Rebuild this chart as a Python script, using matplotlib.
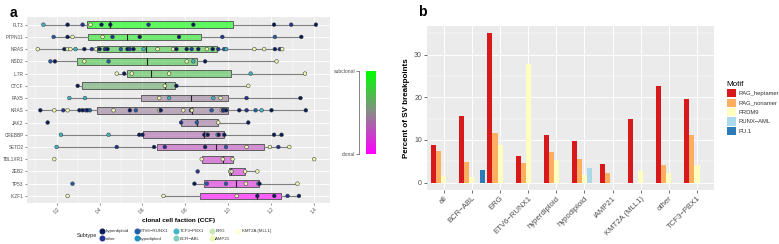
import numpy as np
import matplotlib
matplotlib.use("Agg")
import matplotlib.pyplot as plt
from matplotlib.colors import LinearSegmentedColormap, Normalize
from matplotlib.lines import Line2D
from matplotlib.patches import Patch

plt.rcParams['font.family'] = ['Liberation Sans', 'DejaVu Sans']

# ---- panel a data -------------------------------------------------------
genes = ['FLT3', 'PTPN11', 'NRAS', 'NSD2', 'IL7R', 'CTCF', 'PAX5', 'KRAS',
         'JAK2', 'CREBBP', 'SETD2', 'TBL1XR1', 'ZEB2', 'TP53', 'IKZF1']
box_q1 = [0.341, 0.346, 0.386, 0.294, 0.526, 0.318, 0.592, 0.387, 0.78,
          0.603, 0.666, 0.876, 1.003, 0.888, 0.868]
box_med = [0.45, 0.526, 0.615, 0.623, 0.639, 0.704, 0.826, 0.83, 0.853,
           0.888, 0.941, 0.974, 1.012, 1.034, 1.135]
box_q3 = [1.023, 0.873, 0.949, 0.853, 1.011, 0.752, 0.997, 0.997, 0.953,
          0.981, 1.167, 1.02, 1.078, 1.143, 1.245]
whisk_lo = [0.138, 0.186, 0.112, 0.171, 0.48, 0.298, 0.259, 0.124, 0.78,
            0.22, 0.2, 0.876, 1.003, 0.842, 0.698]
whisk_hi = [1.408, 1.34, 1.251, 1.225, 1.357, 1.093, 1.336, 1.361, 1.093,
            1.248, 1.284, 1.02, 1.135, 1.322, 1.329]

# CCF of each sample per gene and its subtype index
ccf_values = [
    [0.138, 0.251, 0.321, 0.358, 0.409, 0.45, 0.628, 0.837, 1.213, 1.293, 1.408],
    [0.186, 0.251, 0.274, 0.414, 0.46, 0.587, 0.77, 0.972, 1.217, 1.34],
    [0.112, 0.236, 0.251, 0.264, 0.288, 0.329, 0.364, 0.383, 0.40, 0.425, 0.437,
     0.499, 0.53, 0.541, 0.558, 0.605, 0.67, 0.743, 0.758, 0.806, 0.829, 0.86,
     0.90, 0.927, 0.953, 0.98, 0.99, 1.121, 1.167, 1.217, 1.24, 1.251],
    [0.171, 0.192, 0.329, 0.442, 0.806, 0.837, 0.892, 1.225],
    [0.48, 0.515, 0.55, 0.724, 1.104, 1.357],
    [0.298, 0.704, 0.758, 1.093],
    [0.259, 0.332, 0.678, 0.724, 0.93, 0.964, 1.085, 1.336],
    [0.124, 0.189, 0.231, 0.251, 0.306, 0.321, 0.336, 0.344, 0.355, 0.465,
     0.541, 0.569, 0.678, 0.685, 0.79, 0.826, 0.83, 0.922, 0.969, 0.975, 0.98,
     0.99, 1.051, 1.085, 1.127, 1.155, 1.201, 1.361],
    [0.158, 0.78, 0.853, 0.953, 1.093],
    [0.22, 0.442, 0.585, 0.60, 0.888, 0.90, 0.904, 0.95, 0.955, 0.981, 1.213, 1.248],
    [0.2, 0.48, 0.654, 0.704, 0.892, 0.989, 1.085, 1.194, 1.233, 1.284],
    [0.189, 0.876, 0.974, 1.02, 1.4],
    [0.857, 1.008, 1.015, 1.078, 1.135],
    [0.274, 0.842, 0.9, 0.989, 1.082, 1.14, 1.145, 1.322],
    [0.251, 0.698, 1.039, 1.135, 1.214, 1.276, 1.329],
]
ccf_subtype = [
    [4, 0, 1, 7, 0, 0, 1, 0, 0, 1, 0],
    [2, 0, 7, 7, 1, 0, 0, 1, 2, 0],
    [7, 0, 7, 7, 4, 0, 1, 7, 0, 1, 0, 2, 0, 1, 0, 4, 7, 7, 0, 0, 1, 0, 7, 0,
     1, 2, 4, 7, 7, 0, 1, 7],
    [2, 0, 7, 2, 7, 4, 0, 7],
    [7, 0, 7, 7, 4, 7],
    [0, 7, 0, 7],
    [4, 4, 7, 4, 4, 7, 1, 0],
    [0, 7, 1, 7, 0, 0, 1, 0, 2, 7, 0, 2, 7, 0, 7, 0, 7, 2, 7, 0, 1, 0, 0, 1,
     2, 4, 0, 0],
    [0, 1, 2, 7, 0],
    [4, 4, 0, 0, 0, 7, 0, 4, 0, 0, 0, 0],
    [4, 1, 0, 1, 0, 2, 7, 7, 1, 7],
    [7, 7, 7, 7, 7],
    [1, 7, 6, 7, 7],
    [2, 0, 2, 2, 7, 4, 0, 7],
    [7, 7, 7, 0, 0, 1, 0],
]
subtypes = ['hyperdiploid', 'other', 'ETV6−RUNX1', 'hypodiploid', 'TCF3−PBX1',
            'BCR−ABL', 'ERG', 'iAMP21', 'KMT2A (MLL1)']
subtype_colors = ['#081d58', '#253494', '#225ea8', '#1d91c0', '#41b6c4',
                  '#7fcdbb', '#c7e9b4', '#edf8b1', '#ffffd9']
ccf_ticks = [0.2, 0.4, 0.6, 0.8, 1.0, 1.2, 1.4]

# ---- panel b data -------------------------------------------------------
sv_groups = ['all', 'BCR−ABL', 'ERG', 'ETV6−RUNX1', 'hyperdiploid', 'hypodiploid',
             'iAMP21', 'KMT2A (MLL1)', 'other', 'TCF3−PBX1']
motifs = ['RAG_heptamer', 'RAG_nonamer', 'PRDM9', 'RUNX−AML', 'PU.1']
motif_colors = ['#d7191c', '#fdae61', '#ffffbf', '#abd9e9', '#2c7bb6']
rag_heptamer = [8.8, 15.6, 35.05, 6.25, 11.2, 9.85, 4.45, 14.9, 22.6, 19.5]
rag_nonamer = [7.3, 4.75, 11.6, 4.7, 7.2, 5.6, 2.3, np.nan, 4.2, 11.1]
prdm9 = [1.5, 1.25, 8.7, 27.8, 5.3, 1.7, np.nan, 2.7, 2.3, 4.2]
runx_aml = [np.nan, np.nan, np.nan, np.nan, np.nan, 3.3, np.nan, np.nan, np.nan, np.nan]
pu1 = [np.nan, 3.05, np.nan, np.nan, np.nan, np.nan, np.nan, np.nan, np.nan, np.nan]

fig = plt.figure(figsize=(7.79, 2.44), dpi=100)
panel_bg = '#ebebeb'
txt_grey = '#4d4d4d'

# ======================= panel a =========================================
ax = fig.add_axes([0.0347, 0.167, 0.389, 0.762])
ax.set_facecolor(panel_bg)
for s in ax.spines.values():
    s.set_visible(False)

ypos = np.arange(len(genes))
clon_cmap = LinearSegmentedColormap.from_list('clon', ['#00ff00', '#8a8a8a', '#ff00ff'])
norm = Normalize(min(box_med), max(box_med))

stats = []
for i in range(len(genes)):
    stats.append(dict(med=box_med[i], q1=box_q1[i], q3=box_q3[i],
                      whislo=whisk_lo[i], whishi=whisk_hi[i], fliers=[]))
bp = ax.bxp(stats, positions=ypos, widths=0.55, vert=False, patch_artist=True,
            showfliers=False, showcaps=False,
            boxprops=dict(edgecolor='#4d4d4d', linewidth=0.6),
            whiskerprops=dict(color='#7f7f7f', linewidth=0.8),
            medianprops=dict(color='#222222', linewidth=0.8))
for patch, m in zip(bp['boxes'], box_med):
    c = clon_cmap(norm(m))
    patch.set_facecolor((c[0], c[1], c[2], 0.6))
for k in ('boxes', 'whiskers', 'medians'):
    for art in bp[k]:
        art.set_zorder(2)

for i in range(len(genes)):
    cols = [subtype_colors[s] for s in ccf_subtype[i]]
    ax.scatter(ccf_values[i], np.full(len(ccf_values[i]), ypos[i]), s=7, c=cols,
               edgecolors='#333333', linewidths=0.35, zorder=3)

ax.set_xlim(0.062, 1.474)
ax.set_ylim(len(genes) - 0.4, -0.6)
ax.set_yticks(ypos)
ax.set_yticklabels(genes)
ax.set_xticks(ccf_ticks)
ax.set_xticklabels([f'{t:.1f}' for t in ccf_ticks], rotation=45)
ax.set_xticks(np.arange(0.1, 1.5, 0.2), minor=True)
ax.tick_params(axis='both', which='major', length=1.5, width=0.4, color='#333333',
               pad=1, labelsize=3.4, labelcolor=txt_grey)
ax.tick_params(axis='x', which='minor', length=0)
ax.grid(True, which='major', color='white', linewidth=0.6)
ax.grid(True, which='minor', axis='x', color='white', linewidth=0.3)
ax.set_axisbelow(True)
ax.set_xlabel('clonal cell faction (CCF)', fontsize=4.6, fontweight='bold', labelpad=2)

# colour bar for clonality
cax = fig.add_axes([0.47, 0.369, 0.0128, 0.34])
cax.imshow(np.linspace(0, 1, 256)[:, None], aspect='auto', cmap=clon_cmap,
           extent=[0, 1, 1, 0])
cax.set_ylim(1, 0)
cax.set_xticks([])
cax.set_yticks([0, 1])
cax.set_yticklabels(['subclonal', 'clonal'])
for k in ('top', 'right', 'bottom'):
    cax.spines[k].set_visible(False)
cax.spines['left'].set_position(('outward', 5))
cax.spines['left'].set_linewidth(0.5)
cax.spines['left'].set_color('#555555')
cax.tick_params(axis='y', length=2, width=0.5, color='#555555', pad=1,
                labelsize=3.6, labelcolor=txt_grey)

# subtype legend
handles = [Line2D([], [], marker='o', linestyle='', markersize=3.3,
                  markerfacecolor=c, markeredgecolor=c, label=l)
           for l, c in zip(subtypes, subtype_colors)]
fig.legend(handles=handles, ncol=5, loc='center left',
           bbox_to_anchor=(0.126, 0.037), frameon=False, fontsize=3.2,
           handlelength=0.8, handletextpad=0.4, columnspacing=1.3,
           labelspacing=0.75, borderpad=0, labelcolor='#333333')
fig.text(0.0985, 0.034, 'Subtype', fontsize=4.0, color='#222222', va='center')

fig.text(0.012, 0.93, 'a', fontsize=10, fontweight='bold')

# ======================= panel b =========================================
bx = fig.add_axes([0.548, 0.2213, 0.3684, 0.6721])
bx.set_facecolor(panel_bg)
for s in bx.spines.values():
    s.set_visible(False)

xpos = np.arange(len(sv_groups))
series = [rag_heptamer, rag_nonamer, prdm9, runx_aml, pu1]
bw = 0.18
for j, (vals, col, name) in enumerate(zip(series, motif_colors, motifs)):
    vals = np.asarray(vals, dtype=float)
    ok = ~np.isnan(vals)
    bx.bar(xpos[ok] + (j - 2) * bw, vals[ok], width=bw, color=col, zorder=2)

bx.set_xlim(-0.6, len(sv_groups) - 0.4)
bx.set_ylim(-1.75, 36.75)
bx.set_xticks(xpos)
bx.set_xticklabels(sv_groups, rotation=45, ha='right', rotation_mode='anchor')
bx.set_yticks([0, 10, 20, 30])
bx.set_yticks([5, 15, 25, 35], minor=True)
bx.tick_params(axis='both', which='major', length=2, width=0.5, color='#333333',
               pad=1.5, labelcolor=txt_grey)
bx.tick_params(axis='x', labelsize=5.6)
bx.tick_params(axis='y', labelsize=5)
bx.tick_params(axis='y', which='minor', length=0)
bx.grid(True, which='major', color='white', linewidth=0.7)
bx.grid(True, which='minor', axis='y', color='white', linewidth=0.35)
bx.set_axisbelow(True)
bx.set_ylabel('Percent of SV breakpoints', fontsize=5.8, fontweight='bold', labelpad=3)

leg_handles = [Patch(facecolor=c, edgecolor='none', label=m)
               for m, c in zip(motifs, motif_colors)]
bx.legend(handles=leg_handles, title='Motif', loc='center left',
          bbox_to_anchor=(1.035, 0.5), frameon=False, fontsize=4.2,
          title_fontsize=5.8, handlelength=1.5, handleheight=1.8,
          handletextpad=0.5, labelspacing=0.2, borderpad=0,
          alignment='left', labelcolor='#333333')

fig.text(0.537, 0.935, 'b', fontsize=10, fontweight='bold')

fig.savefig('out.png', dpi=100)
